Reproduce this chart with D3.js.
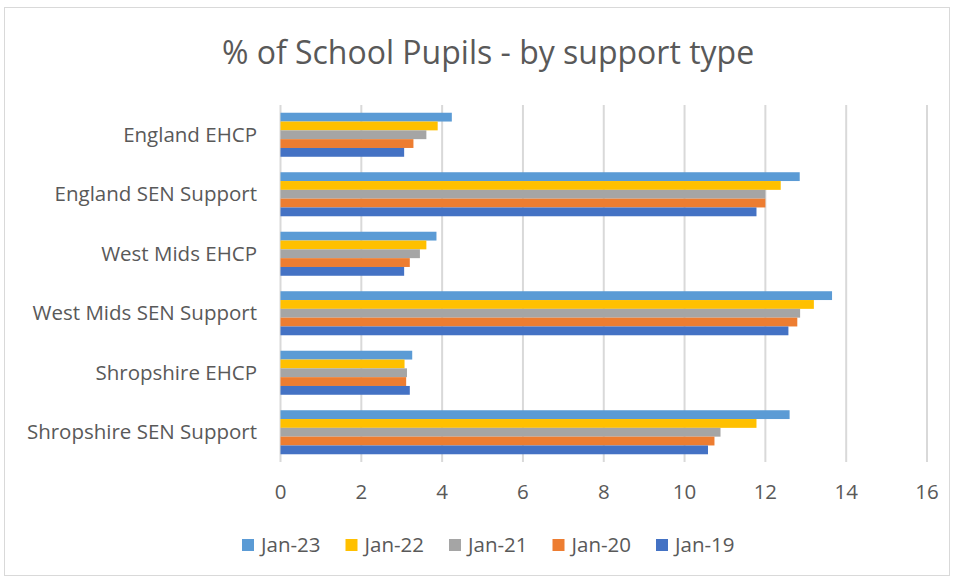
<!DOCTYPE html>
<html>
<head>
<meta charset="utf-8">
<script src="https://cdn.jsdelivr.net/npm/d3@7"></script>
<style>
  body { margin: 0; background: #fff; }
  text { font-family: "Open Sans", "Noto Sans", sans-serif; fill: #595959; }
</style>
</head>
<body>
<div id="chart"></div>
<script>
const categories = [
  "England EHCP",
  "England SEN Support",
  "West Mids EHCP",
  "West Mids SEN Support",
  "Shropshire EHCP",
  "Shropshire SEN Support",
];
const seriesNames = ["Jan-23", "Jan-22", "Jan-21", "Jan-20", "Jan-19"];
const seriesColors = ["#5B9BD5", "#FFC000", "#A5A5A5", "#ED7D31", "#4472C4"];
const jan23 = [4.24, 12.85, 3.86, 13.65, 3.26, 12.6];
const jan22 = [3.89, 12.38, 3.61, 13.2, 3.07, 11.78];
const jan21 = [3.61, 12.0, 3.45, 12.86, 3.13, 10.89];
const jan20 = [3.29, 12.0, 3.2, 12.79, 3.11, 10.74];
const jan19 = [3.06, 11.78, 3.06, 12.57, 3.2, 10.58];
const xTicks = [0, 2, 4, 6, 8, 10, 12, 14, 16];

const values = [jan23, jan22, jan21, jan20, jan19];
const width = 956, height = 580;
const margin = { top: 105, right: 29, bottom: 118, left: 280.5 };

const svg = d3.select("#chart").append("svg")
  .attr("width", width).attr("height", height);

// chart frame
svg.append("rect")
  .attr("x", 4.5).attr("y", 7.5)
  .attr("width", 945).attr("height", 568)
  .attr("fill", "#fff").attr("stroke", "#d9d9d9");

svg.append("text")
  .attr("x", 488).attr("y", 64)
  .attr("text-anchor", "middle")
  .attr("font-size", 32)
  .text("% of School Pupils - by support type");

const x = d3.scaleLinear().domain([0, 16]).range([margin.left, width - margin.right]);
const y = d3.scaleBand().domain(categories)
  .range([margin.top, height - margin.bottom])
  .paddingInner(0.26).paddingOuter(0.13);
const ySub = d3.scaleBand().domain(seriesNames).range([0, y.bandwidth()]);

// gridlines
svg.append("g")
  .selectAll("line")
  .data(xTicks)
  .join("line")
  .attr("x1", d => x(d)).attr("x2", d => x(d))
  .attr("y1", margin.top).attr("y2", height - margin.bottom)
  .attr("stroke", "#d9d9d9").attr("stroke-width", 2);

// bars
svg.append("g")
  .selectAll("g")
  .data(seriesNames)
  .join("g")
  .attr("fill", (d, i) => seriesColors[i])
  .selectAll("rect")
  .data((s, i) => values[i].map((v, j) => ({ s, cat: categories[j], v })))
  .join("rect")
  .attr("x", x(0))
  .attr("y", d => y(d.cat) + ySub(d.s))
  .attr("width", d => x(d.v) - x(0))
  .attr("height", ySub.bandwidth());

// category labels
svg.append("g")
  .selectAll("text")
  .data(categories)
  .join("text")
  .attr("x", 257)
  .attr("y", d => y(d) + y.bandwidth() / 2)
  .attr("dy", "0.35em")
  .attr("text-anchor", "end")
  .attr("font-size", 20.5)
  .text(d => d);

// x tick labels
svg.append("g")
  .selectAll("text")
  .data(xTicks)
  .join("text")
  .attr("x", d => x(d))
  .attr("y", 492)
  .attr("dy", "0.35em")
  .attr("text-anchor", "middle")
  .attr("font-size", 20.5)
  .text(d => d);

// legend
const legend = svg.append("g")
  .selectAll("g")
  .data(seriesNames)
  .join("g")
  .attr("transform", (d, i) => `translate(${242 + i * 103.5},545)`);
legend.append("rect")
  .attr("x", 0).attr("y", -6)
  .attr("width", 12).attr("height", 12)
  .attr("fill", (d, i) => seriesColors[i]);
legend.append("text")
  .attr("x", 19).attr("y", 0).attr("dy", "0.35em")
  .attr("font-size", 20.5)
  .text(d => d);
</script>
</body>
</html>
